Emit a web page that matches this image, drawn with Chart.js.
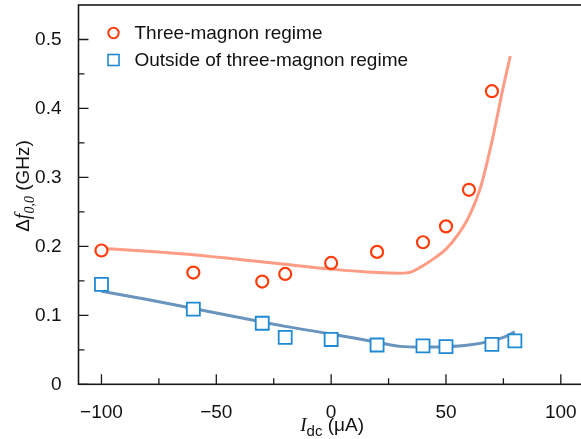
<!DOCTYPE html>
<html>
<head>
<meta charset="utf-8">
<script src="https://cdn.jsdelivr.net/npm/chart.js@4"></script>
<style>
  html, body { margin: 0; padding: 0; background: #fff; overflow: hidden; }
  #wrap { width: 587px; height: 439px; }
</style>
</head>
<body>
<div id="wrap"><canvas id="chart" width="587" height="439"></canvas></div>
<script>
// measured points
const currentsRed = [-100, -60, -30, -20, 0, 20, 40, 50, 60, 70];
const threeMagnon = [0.194, 0.162, 0.149, 0.160, 0.176, 0.192, 0.206, 0.229, 0.282, 0.425];
const currentsBlue = [-100, -60, -30, -20, 0, 20, 40, 50, 70, 80];
const outsideRegime = [0.145, 0.109, 0.0885, 0.068, 0.065, 0.057, 0.0556, 0.0546, 0.058, 0.063];

// model curves
const fitCurrentsRed = [-100, -80, -60, -40, -20, 0, 20, 30, 35, 40, 45, 50, 55, 60, 65, 70, 75, 78];
const fitRed = [0.197, 0.193, 0.188, 0.181, 0.174, 0.167, 0.162, 0.161, 0.163, 0.172, 0.183, 0.196, 0.216, 0.243, 0.285, 0.352, 0.432, 0.476];
const fitCurrentsBlue = [-100, -80, -60, -40, -20, 0, 10, 20, 30, 40, 50, 60, 70, 75, 80];
const fitBlue = [0.135, 0.123, 0.110, 0.097, 0.084, 0.073, 0.067, 0.061, 0.055, 0.054, 0.0545, 0.057, 0.063, 0.068, 0.076];

// ticks (labelled every other one)
const xTicks = [-100, -75, -50, -25, 0, 25, 50, 75, 100];
const yTicks = [0, 0.05, 0.1, 0.15, 0.2, 0.25, 0.3, 0.35, 0.4, 0.45, 0.5];

const legendLabels = ['Three-magnon regime', 'Outside of three-magnon regime'];

const FONT = "'Liberation Sans', Arial, sans-serif";
const SERIF = "'Liberation Serif', 'Times New Roman', serif";
const RED = '#ff3c0c', RED_LINE = '#ff9c86';
const BLUE = '#1f89d4', BLUE_LINE = '#6994be';

const toXY = (xs, ys) => xs.map((x, i) => ({ x: x, y: ys[i] }));
const onStep = (v, step) => Math.abs(v / step - Math.round(v / step)) < 1e-6;

// frame + inward ticks
const framePlugin = {
    id: 'frame',
    afterDraw(chart) {
        const { ctx, chartArea: a, scales } = chart;
        ctx.save();
        ctx.strokeStyle = '#1a1a1a';
        ctx.lineWidth = 1.6;
        ctx.strokeRect(a.left, a.top, a.right - a.left, a.bottom - a.top);
        ctx.lineWidth = 1.3;
        ctx.beginPath();
        scales.x.ticks.forEach(t => {
            const px = scales.x.getPixelForValue(t.value);
            const len = onStep(t.value, 50) ? 10 : 6;
            ctx.moveTo(px, a.bottom);
            ctx.lineTo(px, a.bottom - len);
        });
        scales.y.ticks.forEach(t => {
            const py = scales.y.getPixelForValue(t.value);
            const len = onStep(t.value, 0.1) ? 10 : 6;
            ctx.moveTo(a.left, py);
            ctx.lineTo(a.left + len, py);
        });
        ctx.stroke();
        ctx.restore();
    }
};

// legend inside the plot area
const legendPlugin = {
    id: 'innerLegend',
    afterDatasetsDraw(chart) {
        const { ctx, chartArea: a } = chart;
        ctx.save();
        ctx.font = '19px ' + FONT;
        ctx.fillStyle = '#111';
        ctx.textBaseline = 'middle';
        const x0 = a.left + 35, y0 = a.top + 28, gap = 27;
        ctx.lineWidth = 2;
        ctx.strokeStyle = RED;
        ctx.beginPath();
        ctx.arc(x0, y0, 5.2, 0, Math.PI * 2);
        ctx.stroke();
        ctx.fillText(legendLabels[0], x0 + 21, y0 + 1);
        ctx.strokeStyle = BLUE;
        ctx.lineWidth = 1.6;
        ctx.strokeRect(x0 - 5.5, y0 + gap - 5.5, 11, 11);
        ctx.fillText(legendLabels[1], x0 + 21, y0 + gap + 1);
        ctx.restore();
    }
};

// axis titles with italics and subscripts
const titlePlugin = {
    id: 'axisTitles',
    afterDraw(chart) {
        const { ctx, chartArea: a } = chart;
        ctx.save();
        ctx.fillStyle = '#111';
        ctx.textBaseline = 'alphabetic';
        const partsX = [
            { t: 'I', f: 'italic 19px ' + SERIF, dy: 0 },
            { t: 'dc', f: '15px ' + FONT, dy: 5 },
            { t: ' (μA)', f: '19px ' + FONT, dy: 0 }
        ];
        let w = 0;
        partsX.forEach(p => { ctx.font = p.f; p.w = ctx.measureText(p.t).width; w += p.w; });
        let cx = chart.scales.x.getPixelForValue(0) - w / 2 + 1;
        const by = a.bottom + 47;
        partsX.forEach(p => { ctx.font = p.f; ctx.fillText(p.t, cx, by + p.dy); cx += p.w; });

        const partsY = [
            { t: 'Δ', f: '19px ' + FONT, dy: 0 },
            { t: 'f', f: 'italic 20px ' + SERIF, dy: 0 },
            { t: '0,0', f: 'italic 14px ' + SERIF, dy: 5 },
            { t: ' (GHz)', f: '19px ' + FONT, dy: 0 }
        ];
        w = 0;
        partsY.forEach(p => { ctx.font = p.f; p.w = ctx.measureText(p.t).width; w += p.w; });
        ctx.translate(29, 186);
        ctx.rotate(-Math.PI / 2);
        cx = -w / 2;
        partsY.forEach(p => { ctx.font = p.f; ctx.fillText(p.t, cx, p.dy); cx += p.w; });
        ctx.restore();
    }
};

new Chart(document.getElementById('chart'), {
    type: 'scatter',
    data: {
        datasets: [
            {
                label: 'fit three-magnon',
                data: toXY(fitCurrentsRed, fitRed),
                showLine: true,
                borderColor: RED_LINE,
                borderWidth: 3,
                pointRadius: 0,
                cubicInterpolationMode: 'monotone',
                order: 4
            },
            {
                label: 'fit outside',
                data: toXY(fitCurrentsBlue, fitBlue),
                showLine: true,
                borderColor: BLUE_LINE,
                borderWidth: 3,
                pointRadius: 0,
                cubicInterpolationMode: 'monotone',
                order: 3
            },
            {
                label: legendLabels[0],
                data: toXY(currentsRed, threeMagnon),
                pointStyle: 'circle',
                pointRadius: 6,
                borderWidth: 2.2,
                borderColor: RED,
                backgroundColor: '#fff',
                order: 2
            },
            {
                label: legendLabels[1],
                data: toXY(currentsBlue, outsideRegime),
                pointStyle: 'rect',
                pointRadius: 9.2,
                borderWidth: 1.8,
                borderColor: BLUE,
                backgroundColor: '#fff',
                order: 1
            }
        ]
    },
    options: {
        responsive: false,
        animation: false,
        layout: { autoPadding: false, padding: { top: 5, right: 0, left: 0, bottom: 0 } },
        scales: {
            x: {
                type: 'linear',
                min: -110,
                max: 111.4,
                grid: { display: false },
                border: { display: false },
                afterBuildTicks: s => { s.ticks = xTicks.map(v => ({ value: v })); },
                ticks: {
                    autoSkip: false,
                    maxRotation: 0,
                    padding: 9,
                    color: '#111',
                    font: { family: FONT, size: 19 },
                    callback: v => onStep(v, 50) ? (v < 0 ? '\u2212' + Math.abs(v) : String(v)) : ''
                },
                afterFit: s => { s.height = 54.7; s.paddingLeft = 0; s.paddingRight = 0; }
            },
            y: {
                min: 0,
                max: 0.55,
                grid: { display: false },
                border: { display: false },
                afterBuildTicks: s => { s.ticks = yTicks.map(v => ({ value: v })); },
                ticks: {
                    autoSkip: false,
                    padding: 9,
                    color: '#111',
                    font: { family: FONT, size: 19 },
                    callback: v => onStep(v, 0.1) ? (Math.abs(v) < 1e-9 ? '0' : v.toFixed(1)) : ''
                },
                afterFit: s => { s.width = 78.5; s.paddingTop = 0; s.paddingBottom = 0; }
            }
        },
        plugins: {
            legend: { display: false },
            tooltip: { enabled: false }
        }
    },
    plugins: [framePlugin, legendPlugin, titlePlugin]
});
</script>
</body>
</html>
